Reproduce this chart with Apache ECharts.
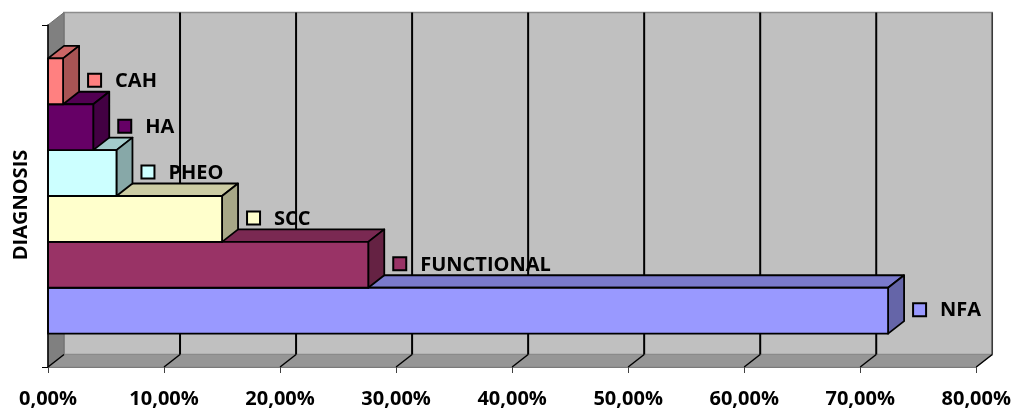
<!DOCTYPE html>
<html>
<head>
<meta charset="utf-8">
<script src="https://cdn.jsdelivr.net/npm/echarts@6/dist/echarts.min.js"></script>
<style>
  html, body { margin: 0; padding: 0; background: #ffffff; }
  #chart { width: 1014px; height: 409px; }
</style>
</head>
<body>
<div id="chart"></div>
<script>
// Share of each diagnosis (percent), listed from the lowest bar to the highest
const diagnoses = ['NFA', 'FUNCTIONAL', 'SCC', 'PHEO', 'HA', 'CAH'];
const shares = [72.4, 27.6, 15.0, 5.9, 3.9, 1.3];
const barColors = ['#9999ff', '#993366', '#ffffcc', '#ccffff', '#660066', '#ff8080'];
const xTicks = [0, 10, 20, 30, 40, 50, 60, 70, 80];
const axisTitle = 'DIAGNOSIS';

// Depth of the pseudo-3D box (screen offset of the back plane)
const DX = 16, DY = -12.5;
const FONT = 'bold 20px "Open Sans"';
const BAR_GAP = 0.195; // fraction of the category band left empty

function shade(hex, k) {
  const n = parseInt(hex.slice(1), 16);
  const r = Math.round(((n >> 16) & 255) * k);
  const g = Math.round(((n >> 8) & 255) * k);
  const b = Math.round((n & 255) * k);
  return 'rgb(' + r + ',' + g + ',' + b + ')';
}

// Vertical extent of bar i inside the single category band
function barRows(api, i) {
  const c = api.coord([0, 0]);
  const band = api.size([0, 1])[1];
  const h = band * (1 - BAR_GAP) / diagnoses.length;
  const bottom = c[1] + h * diagnoses.length / 2 - i * h;
  return { top: bottom - h, bottom: bottom, h: h };
}

const xMin = xTicks[0], xMax = xTicks[xTicks.length - 1];

// Back wall, left wall and floor
function renderWalls(params, api) {
  const tl = api.coord([xMin, 0]);
  const band = api.size([0, 1])[1];
  const x0 = tl[0];
  const x1 = api.coord([xMax, 0])[0];
  const yTop = tl[1] - band / 2;
  const yBot = tl[1] + band / 2;
  return {
    type: 'group',
    children: [
      { type: 'rect', shape: { x: x0 + DX, y: yTop + DY, width: x1 - x0, height: yBot - yTop },
        style: { fill: '#c0c0c0', stroke: '#8c8c8c', lineWidth: 1.5 } },
      { type: 'polygon', shape: { points: [[x0, yTop], [x0 + DX, yTop + DY], [x0 + DX, yBot + DY], [x0, yBot]] },
        style: { fill: '#808080', stroke: '#6e6e6e', lineWidth: 1 } },
      { type: 'polygon', shape: { points: [[x0, yBot], [x1, yBot], [x1 + DX, yBot + DY], [x0 + DX, yBot + DY]] },
        style: { fill: '#969696', stroke: '#8a8a8a', lineWidth: 1 } }
    ]
  };
}

// Gridlines: diagonal across the floor, then up the back wall
function renderGrid(params, api) {
  const t = api.value(0);
  const p = api.coord([t, 0]);
  const band = api.size([0, 1])[1];
  const yTop = p[1] - band / 2;
  const yBot = p[1] + band / 2;
  const x = p[0];
  const children = [
    { type: 'line', shape: { x1: x, y1: yBot, x2: x + DX, y2: yBot + DY },
      style: { stroke: '#000', lineWidth: 1.5 } }
  ];
  if (t > xMin) {
    children.push({ type: 'line', shape: { x1: x + DX, y1: yBot + DY, x2: x + DX, y2: yTop + DY },
      style: { stroke: t === xMax ? '#3a3a3a' : '#000', lineWidth: t === xMax ? 1.5 : 2 } });
  }
  return { type: 'group', children: children };
}

// Legend key and name placed just past each bar
function renderLabels(params, api) {
  const v = api.value(0);
  const i = api.value(2);
  const r = barRows(api, i);
  const xv = api.coord([v, 0])[0];
  const cy = (r.top + r.bottom) / 2 - 1;
  return {
    type: 'group',
    children: [
      { type: 'rect', shape: { x: xv + 25, y: cy - 6.5, width: 13, height: 13 },
        style: { fill: barColors[i], stroke: '#000', lineWidth: 2 } },
      { type: 'text', x: xv + 52, y: cy + 1,
        style: { text: diagnoses[i], font: FONT, fill: '#000', align: 'left', verticalAlign: 'middle' } }
    ]
  };
}

// Pseudo-3D bar: front face, top face, side face
function renderBars(params, api) {
  const v = api.value(0);
  const i = api.value(2);
  const r = barRows(api, i);
  const x0 = api.coord([0, 0])[0];
  const xv = api.coord([v, 0])[0];
  const col = barColors[i];
  const edge = { stroke: '#000', lineWidth: 1.8, lineJoin: 'round' };
  return {
    type: 'group',
    children: [
      { type: 'polygon', shape: { points: [[x0, r.top], [xv, r.top], [xv + DX, r.top + DY], [x0 + DX, r.top + DY]] },
        style: Object.assign({ fill: shade(col, 0.8) }, edge) },
      { type: 'polygon', shape: { points: [[xv, r.top], [xv + DX, r.top + DY], [xv + DX, r.bottom + DY], [xv, r.bottom]] },
        style: Object.assign({ fill: shade(col, 0.66) }, edge) },
      { type: 'rect', shape: { x: x0, y: r.top, width: xv - x0, height: r.h },
        style: Object.assign({ fill: col }, edge) }
    ]
  };
}

const barData = shares.map((v, i) => [v, 0, i]);

const chart = echarts.init(document.getElementById('chart'), null, { renderer: 'canvas' });
chart.setOption({
  animation: false,
  grid: { left: 48, right: 37, top: 25, bottom: 41 },
  xAxis: {
    type: 'value', min: xMin, max: xMax, interval: 10, z: 5,
    axisLine: { show: true, lineStyle: { color: '#7a7a7a', width: 1 } },
    axisTick: { show: true, length: 6, lineStyle: { color: '#404040', width: 1 } },
    splitLine: { show: false },
    axisLabel: {
      formatter: v => v.toFixed(2).replace('.', ',') + '%',
      fontFamily: 'Open Sans', fontWeight: 'bold', fontSize: 20, color: '#000', margin: 22
    }
  },
  yAxis: {
    type: 'category', data: [''], z: 5,
    axisLine: { show: true, lineStyle: { color: '#000', width: 1.5 } },
    axisTick: { show: true, length: 6, lineStyle: { color: '#000', width: 1 } },
    axisLabel: { show: false },
    splitLine: { show: false }
  },
  graphic: [{
    type: 'text', x: 21, y: 205, rotation: Math.PI / 2,
    style: { text: axisTitle, font: FONT, fill: '#000', align: 'center', verticalAlign: 'middle' }
  }],
  series: [
    { type: 'custom', name: 'walls', z: 1, clip: false, silent: true,
      renderItem: renderWalls, data: [[xMin, 0]], encode: { x: 0, y: 1 } },
    { type: 'custom', name: 'labels', z: 2, clip: false, silent: true,
      renderItem: renderLabels, data: barData, encode: { x: 0, y: 1 } },
    { type: 'custom', name: 'grid', z: 3, clip: false, silent: true,
      renderItem: renderGrid, data: xTicks.map(t => [t, 0]), encode: { x: 0, y: 1 } },
    { type: 'custom', name: 'bars', z: 4, clip: false,
      renderItem: renderBars, data: barData, encode: { x: 0, y: 1 } }
  ]
});
</script>
</body>
</html>
